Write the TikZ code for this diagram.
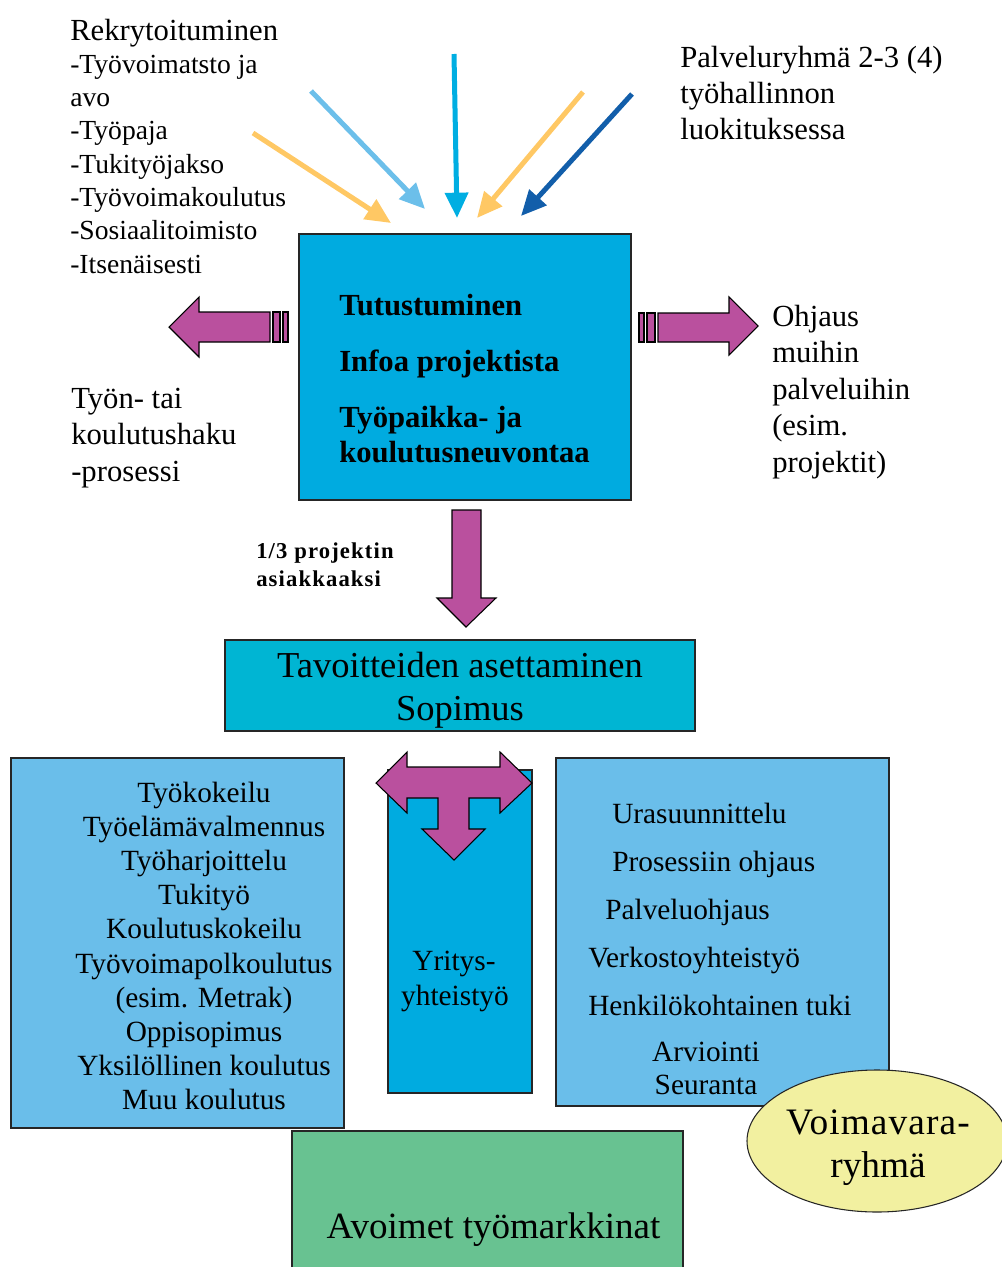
\documentclass[tikz,border=0pt]{standalone}
\usepackage{fontspec}
\setmainfont{Liberation Serif}
\usetikzlibrary{arrows.meta,fit,shapes.geometric}
\definecolor{cyanmain}{RGB}{0,171,224}
\definecolor{tavc}{RGB}{0,181,211}
\definecolor{lightb}{RGB}{106,190,234}
\definecolor{greenb}{RGB}{104,194,145}
\definecolor{yelle}{RGB}{242,240,160}
\definecolor{magb}{RGB}{186,80,158}
\definecolor{aryel}{RGB}{255,200,100}
\definecolor{arlb}{RGB}{108,191,234}
\definecolor{arcy}{RGB}{0,174,226}
\definecolor{ardb}{RGB}{18,94,170}
\begin{document}
\begin{tikzpicture}[x=0.75pt,y=-0.75pt,
  boxst/.style={draw=black!85,line width=0.8pt,inner sep=0pt},
  blockarrow/.style={draw=black,line width=0.8pt,fill=magb,line join=miter},
  inarrow/.style={line width=3.75pt,-{Triangle[width=17pt,length=19pt]}},
  txt/.style={inner sep=0pt,anchor=base west,font=\fontsize{23}{27}\selectfont},
  listtxt/.style={inner sep=0pt,anchor=base west,font=\fontsize{20.7}{24.75}\selectfont},
  boldtxt/.style={inner sep=0pt,anchor=base west,font=\bfseries\fontsize{23}{27}\selectfont},
  boxtxt/.style={inner sep=0pt,anchor=base,font=\fontsize{22}{25.7}\selectfont},
  boxtxtw/.style={inner sep=0pt,anchor=base west,font=\fontsize{22}{25.7}\selectfont},
  bigtxt/.style={inner sep=0pt,anchor=base,font=\fontsize{27.5}{32.25}\selectfont},
  lbltxt/.style={inner sep=0pt,anchor=base west,font=\bfseries\fontsize{17}{21}\selectfont\addfontfeatures{LetterSpace=5}}
]
\useasboundingbox (0,0) rectangle (1002,1267);
\clip (0,0) rectangle (1002,1267);

% ---- left recruitment list
\node[txt] (rek) at (70,40) {Rekrytoituminen};
\foreach \t [count=\i] in {-Työvoimatsto ja,avo,-Työpaja,-Tukityöjakso,-Työvoimakoulutus,-Sosiaalitoimisto,-Itsenäisesti}
  \node[listtxt] (rl\i) at (70,{40+33.3*\i}) {\t};

% ---- right top text
\foreach \t [count=\i] in {{Palveluryhmä 2-3 (4)},{työhallinnon},{luokituksessa}}
  \node[txt] (pr\i) at (680,{67+36*(\i-1)}) {\t};

% ---- incoming arrows
\coordinate (a1s) at (253,133); \coordinate (a1e) at (391,223);
\coordinate (a2s) at (311,91);  \coordinate (a2e) at (425,209);
\coordinate (a3s) at (454,54);  \coordinate (a3e) at (457,218);
\coordinate (a4s) at (583,92);  \coordinate (a4e) at (477,218);
\coordinate (a5s) at (632,94);  \coordinate (a5e) at (521,216);
\draw[inarrow,aryel] (a1s) -- (a1e);
\draw[inarrow,arlb] (a2s) -- (a2e);
\draw[inarrow,arcy] (a3s) -- (a3e);
\draw[inarrow,aryel] (a4s) -- (a4e);
\draw[inarrow,ardb] (a5s) -- (a5e);

% ---- main box
\node[boxst,fill=cyanmain,fit={(299,234) (631,500)}] (main) {};
\foreach \t/\y [count=\i] in {Tutustuminen/315,Infoa projektista/371,Työpaikka- ja/427,koulutusneuvontaa/462}
  \node[boldtxt] (mt\i) at (339,\y) {\t};

% ---- side block arrows
\draw[blockarrow] (270,312) -- (199,312) -- (199,297) -- (169,327) -- (199,357) -- (199,342) -- (270,342) -- cycle;
\draw[blockarrow] (273,312) rectangle (280,342);
\draw[blockarrow] (283,312) rectangle (288,342);
\draw[blockarrow] (639,313) rectangle (644,342);
\draw[blockarrow] (647,313) rectangle (655,342);
\draw[blockarrow] (658,313) -- (729,313) -- (729,297) -- (758,326) -- (729,355) -- (729,342) -- (658,342) -- cycle;

% ---- side texts
\foreach \t [count=\i] in {{Työn- tai},{koulutushaku},{-prosessi}}
  \node[txt] (lt\i) at (71,{408+36.5*(\i-1)}) {\t};
\foreach \t [count=\i] in {{Ohjaus},{muihin},{palveluihin},{(esim.},{projektit)}}
  \node[txt] (rt\i) at (772,{326+36.5*(\i-1)}) {\t};

% ---- down arrow and its label
\draw[blockarrow] (452,510) -- (481,510) -- (481,598) -- (496,598) -- (466,627) -- (437,598) -- (452,598) -- cycle;
\node[lbltxt] (lb1) at (256,558) {1/3 projektin};
\node[lbltxt] (lb2) at (256,586) {asiakkaaksi};

% ---- goals box
\node[boxst,fill=tavc,fit={(225,640) (695,731)}] (tav) {};
\node[bigtxt,font=\fontsize{27.4}{32.25}\selectfont] (tv1) at (460,677) {Tavoitteiden asettaminen};
\node[bigtxt,font=\fontsize{27.4}{32.25}\selectfont] (tv2) at (460,720) {Sopimus};

% ---- left bottom box
\node[boxst,fill=lightb,fit={(11,758) (344,1128)}] (lbox) {};
\foreach \t [count=\i] in {{Työkokeilu},{Työelämävalmennus},{Työharjoittelu},{Tukityö},{Koulutuskokeilu},{Työvoimapolkoulutus},{(esim. Metrak)},{Oppisopimus},{Yksilöllinen koulutus},{Muu koulutus}}
  \node[boxtxt] (lb\i x) at (204,{802+34.2*(\i-1)}) {\t};

% ---- middle box
\node[boxst,fill=cyanmain,fit={(388,770) (532,1093)}] (mbox) {};
\node[boxtxt] (my1) at (454,970) {Yritys-};
\node[boxtxt] (my2) at (455,1005) {yhteistyö};

% ---- T arrow
\draw[blockarrow] (376,783) -- (407,752) -- (407,767) -- (500,767) -- (500,752) -- (532,783) -- (500,813) -- (500,798) -- (469,798) -- (469,829) -- (485,829) -- (454,860) -- (422,829) -- (438,829) -- (438,798) -- (407,798) -- (407,813) -- cycle;

% ---- right bottom box
\node[boxst,fill=lightb,fit={(556,758) (889,1106)}] (rbox) {};
\node[boxtxtw] (rb1) at (612,823) {Urasuunnittelu};
\node[boxtxtw] (rb2) at (612,871) {Prosessiin ohjaus};
\node[boxtxtw] (rb3) at (605,919) {Palveluohjaus};
\node[boxtxtw] (rb4) at (588,967) {Verkostoyhteistyö};
\node[boxtxtw] (rb5) at (588,1015) {Henkilökohtainen tuki};
\node[boxtxt] (rb6) at (706,1061) {Arviointi};
\node[boxtxt] (rb7) at (706,1094) {Seuranta};

% ---- ellipse
\node[ellipse,draw=black!85,line width=0.8pt,fill=yelle,minimum width=195pt,minimum height=106.5pt,inner sep=0pt] (vr) at (877,1141) {};
\node[bigtxt,font=\fontsize{28}{32.25}\selectfont\addfontfeatures{LetterSpace=3}] (vr1) at (878,1134) {Voimavara-};
\node[bigtxt,font=\fontsize{28}{32.25}\selectfont] (vr2) at (878,1177) {ryhmä};

% ---- green box
\node[boxst,fill=greenb,fit={(292,1131) (683,1280)}] (gbox) {};
\node[bigtxt,font=\fontsize{27.8}{32}\selectfont] (gt) at (493.5,1238) {Avoimet työmarkkinat};
\end{tikzpicture}
\end{document}
